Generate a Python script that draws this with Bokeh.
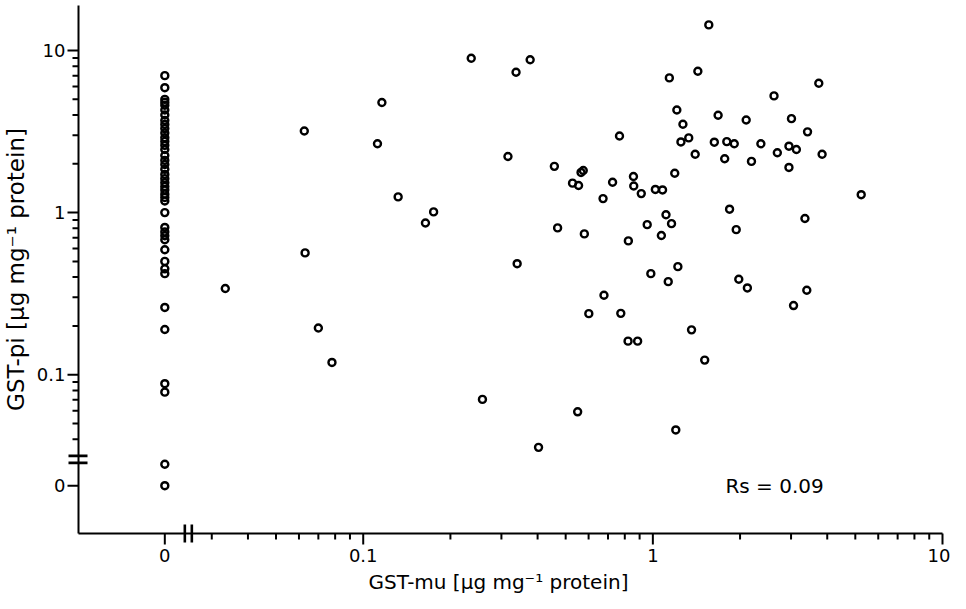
import math
from bokeh.plotting import figure
from bokeh.models import FixedTicker, Label, Range1d
from bokeh.embed import file_html
from bokeh.resources import INLINE

# ---------------- data ----------------
# GST-pi of samples whose GST-mu is 0 (0 = undetectable)
zero_mu_pi = [7.0, 5.9, 5.0, 4.8, 4.6, 4.3, 4.0, 3.7, 3.5, 3.3, 3.1, 2.9, 2.75,
              2.6, 2.45, 2.25, 2.1, 1.98, 1.85, 1.72, 1.62, 1.53, 1.45, 1.38,
              1.3, 1.24, 1.18, 1.0, 0.81, 0.76, 0.72, 0.68, 0.59, 0.50, 0.45,
              0.42, 0.26, 0.19, 0.088, 0.078, 0.028, 0]

# samples with measurable GST-mu
gst_mu = [0.236, 0.377, 0.337, 0.116, 0.0626, 0.112, 0.316, 0.457, 0.132, 0.175,
          0.164, 0.469, 0.063, 0.34, 0.0334, 0.070, 0.078, 0.258, 0.403,
          1.56, 1.14, 1.43, 3.74, 2.62, 1.21, 1.68, 2.10, 3.01, 1.27, 3.42,
          0.767, 1.33, 1.25, 1.63, 1.80, 1.91, 2.36, 2.95, 3.13, 3.84, 1.40,
          2.69, 1.77, 2.19, 2.95, 1.19, 0.575, 0.565, 0.528, 0.554, 0.726,
          0.857, 0.859, 1.02, 1.08, 0.912, 0.673, 5.24, 1.84, 1.11, 1.16,
          0.956, 1.07, 3.35, 1.94, 0.58, 0.823, 1.22, 0.984, 1.13, 1.98, 2.12,
          3.40, 3.06, 0.678, 0.601, 0.775, 0.821, 0.886, 1.36, 1.51, 0.55, 1.20]
gst_pi = [8.96, 8.77, 7.35, 4.78, 3.19, 2.66, 2.22, 1.93, 1.25, 1.01,
          0.863, 0.805, 0.564, 0.484, 0.34, 0.194, 0.119, 0.0704, 0.0356,
          14.4, 6.78, 7.45, 6.28, 5.25, 4.30, 3.99, 3.73, 3.80, 3.51, 3.15,
          2.97, 2.89, 2.73, 2.72, 2.74, 2.66, 2.66, 2.57, 2.45, 2.29, 2.29,
          2.34, 2.15, 2.07, 1.90, 1.75, 1.82, 1.77, 1.52, 1.47, 1.54,
          1.67, 1.46, 1.39, 1.38, 1.31, 1.22, 1.29, 1.05, 0.97, 0.855,
          0.843, 0.722, 0.92, 0.785, 0.739, 0.669, 0.464, 0.42, 0.375, 0.388, 0.343,
          0.332, 0.267, 0.309, 0.238, 0.239, 0.161, 0.161, 0.189, 0.123, 0.059, 0.0456]

rs_text = "Rs = 0.09"
x_title = "GST-mu [\u00b5g mg\u207b\u00b9 protein]"
y_title = "GST-pi [\u00b5g mg\u207b\u00b9 protein]"
x_tick_labels = {"0": 0, "0.1": 0.1, "1": 1, "10": 10}
y_tick_labels = {"0": 0, "0.1": 0.1, "1": 1, "10": 10}
x_minor = [0.03, 0.04, 0.05, 0.06, 0.07, 0.08, 0.09, 0.2, 0.3, 0.4, 0.5, 0.6, 0.7, 0.8, 0.9,
           2, 3, 4, 5, 6, 7, 8, 9]
y_minor = [0.04, 0.05, 0.06, 0.07, 0.08, 0.09, 0.2, 0.3, 0.4, 0.5, 0.6, 0.7, 0.8, 0.9,
           2, 3, 4, 5, 6, 7, 8, 9]

# ---------------- layout ----------------
ZERO_POS = 10 ** -1.685          # where "0" sits on the broken log axes
X_BREAK = 0.0249
Y_BREAK = 0.03
XL0, XL1 = -1.983, 1.0           # x-axis runs from the y-axis to 10
YL0, YL1 = -1.98, 1.278          # y-axis runs from the x-axis to its top

W, H = 950, 593
AX_LEFT, AX_RIGHT, AX_TOP, AX_BOTTOM = 78, 942, 5, 533   # canvas px of the axis box
xdec = (AX_RIGHT - AX_LEFT) / (XL1 - XL0)
ydec = (AX_BOTTOM - AX_TOP) / (YL1 - YL0)
# the frame covers the whole canvas so nothing is clipped
FX0 = XL0 - AX_LEFT / xdec
FX1 = XL1 + (W - AX_RIGHT) / xdec
FY1 = YL1 + AX_TOP / ydec
FY0 = YL0 - (H - AX_BOTTOM) / ydec
MAJOR_LEN, MINOR_LEN = 11, 6


def z(v):
    return v if v > 0 else ZERO_POS


def lx(v, dpx):
    return 10 ** (math.log10(v) + dpx / xdec)


def ly(v, dpx):
    return 10 ** (math.log10(v) + dpx / ydec)


xs = [ZERO_POS] * len(zero_mu_pi) + [z(v) for v in gst_mu]
ys = [z(v) for v in zero_mu_pi] + [z(v) for v in gst_pi]

p = figure(width=W, height=H, x_axis_type="log", y_axis_type="log",
           x_range=Range1d(10 ** FX0, 10 ** FX1), y_range=Range1d(10 ** FY0, 10 ** FY1),
           output_backend="svg", toolbar_location=None,
           min_border_left=0, min_border_right=0, min_border_top=0, min_border_bottom=0)
p.outline_line_color = None
p.xgrid.grid_line_color = None
p.ygrid.grid_line_color = None
p.background_fill_color = "white"
p.border_fill_color = "white"

p.scatter(xs, ys, marker="circle", size=7, fill_color=None,
          line_color="black", line_width=2.4)

FONT = "DejaVu Sans"
for ax, labels, minor in ((p.xaxis[0], x_tick_labels, x_minor), (p.yaxis[0], y_tick_labels, y_minor)):
    ticks = [z(v) for v in labels.values()]
    ax.ticker = FixedTicker(ticks=ticks, minor_ticks=minor)
    ax.major_label_overrides = {z(v): k for k, v in labels.items()}
    ax.axis_line_width = 2
    ax.axis_line_color = "black"
    ax.major_tick_line_color = None
    ax.minor_tick_line_color = None
    ax.major_tick_in = 0
    ax.major_tick_out = 0
    ax.minor_tick_in = 0
    ax.minor_tick_out = 0
    ax.major_label_text_font = FONT
    ax.major_label_text_font_size = "18px"
    ax.major_label_text_color = "black"
    ax.axis_label_text_font = FONT
    ax.axis_label_text_font_style = "normal"
    ax.axis_label_text_color = "black"

p.xaxis.fixed_location = 10 ** YL0
p.xaxis.bounds = (10 ** XL0, 10 ** XL1)
p.yaxis.fixed_location = 10 ** XL0
p.yaxis.bounds = (10 ** YL0, 10 ** YL1)
p.xaxis.major_label_standoff = 15
p.yaxis.major_label_standoff = 13

p.yaxis.axis_label = y_title
p.yaxis.axis_label_text_font_size = "23px"
p.yaxis.axis_label_standoff = 5

# tick marks, drawn outward from each axis
tx0, ty0, tx1, ty1 = [], [], [], []
for v in list(x_tick_labels.values()) + x_minor:
    n = MAJOR_LEN if v in x_tick_labels.values() else MINOR_LEN
    tx0.append(z(v)); tx1.append(z(v))
    ty0.append(10 ** YL0); ty1.append(ly(10 ** YL0, -n))
for v in list(y_tick_labels.values()) + y_minor:
    n = MAJOR_LEN if v in y_tick_labels.values() else MINOR_LEN
    ty0.append(z(v)); ty1.append(z(v))
    tx0.append(10 ** XL0); tx1.append(lx(10 ** XL0, -n))
p.segment(tx0, ty0, tx1, ty1, line_color="black", line_width=2, line_cap="butt")

# axis break marks (short thick strokes across each axis)
bx0, bx1, by0, by1 = [], [], [], []
for d in (-3.5, 3.5):
    bx0.append(lx(10 ** XL0, -10)); bx1.append(lx(10 ** XL0, 9))
    by0.append(ly(Y_BREAK, d)); by1.append(ly(Y_BREAK, d))
    bx0.append(lx(X_BREAK, d)); bx1.append(lx(X_BREAK, d))
    by0.append(ly(10 ** YL0, -9)); by1.append(ly(10 ** YL0, 9))
p.segment(bx0, by0, bx1, by1, line_color="black", line_width=2.6, line_cap="butt")

# x-axis title
p.add_layout(Label(x=lx(10 ** XL0, 498 - AX_LEFT), y=ly(10 ** YL0, -(581 - AX_BOTTOM)),
                   text=x_title, text_font=FONT, text_font_size="20px",
                   text_align="center", text_baseline="middle", text_color="black"))

p.add_layout(Label(x=1.78, y=ZERO_POS, text=rs_text, text_font=FONT,
                   text_font_size="20px", text_baseline="middle", text_align="left",
                   text_color="black"))

open("out.html", "w").write(file_html(p, INLINE))
